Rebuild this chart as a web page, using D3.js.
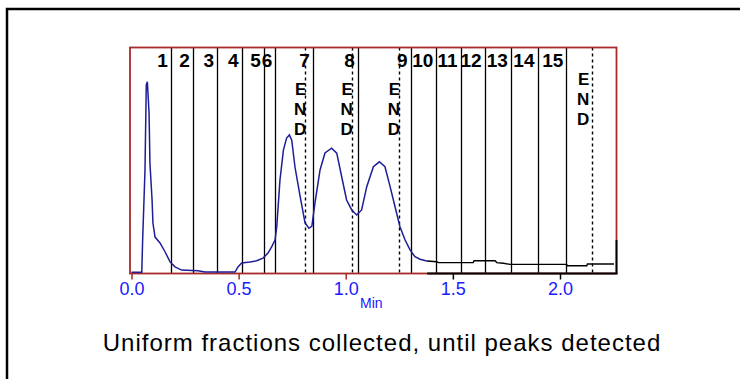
<!DOCTYPE html>
<html>
<head>
<meta charset="utf-8">
<script src="https://cdnjs.cloudflare.com/ajax/libs/d3/7.8.5/d3.min.js"></script>
<style>
  body { margin: 0; background: #fff; }
  svg { display: block; font-family: "Liberation Sans", Arial, sans-serif; }
</style>
</head>
<body>
<svg id="chart" width="740" height="379"></svg>
<script>
// chromatogram trace (time in min, signal in % of full scale)
var traceTime = [0.000, 0.048, 0.052, 0.063, 0.069, 0.074, 0.082, 0.086, 0.096, 0.100,
  0.110, 0.133, 0.157, 0.180, 0.203, 0.234, 0.310, 0.343, 0.483, 0.497,
  0.514, 0.553, 0.584, 0.614, 0.637, 0.654, 0.670, 0.678, 0.693, 0.709,
  0.724, 0.737, 0.748, 0.763, 0.786, 0.810, 0.828, 0.842, 0.856, 0.880,
  0.903, 0.934, 0.958, 0.981, 1.004, 1.028, 1.051, 1.074, 1.098, 1.129,
  1.157, 1.183, 1.207, 1.230, 1.253, 1.277, 1.300, 1.323, 1.347, 1.378,
  1.425, 1.432, 1.595, 1.599, 1.697, 1.705, 1.735, 1.767, 2.031, 2.035,
  2.125, 2.128, 2.252];
var traceSignal = [0.3, 0.3, 14.6, 45.6, 83.2, 84.6, 70.8, 48.7, 32.3, 22.1,
  15.9, 13.3, 9.3, 4.9, 2.7, 1.3, 1.0, 0.4, 0.4, 2.7,
  4.4, 4.9, 5.4, 6.6, 8.8, 11.6, 14.6, 20.5, 41.2, 54.4,
  59.7, 61.1, 58.8, 46.9, 34.5, 22.1, 19.8, 20.8, 30.8, 45.6,
  53.1, 55.2, 53.0, 42.6, 32.3, 27.9, 25.7, 27.9, 38.2, 47.0,
  49.2, 47.0, 38.2, 29.3, 20.5, 14.6, 10.2, 7.2, 6.1, 5.3,
  5.0, 4.6, 4.6, 5.4, 5.4, 4.6, 4.3, 3.8, 3.8, 3.2,
  3.2, 4.0, 4.0];

// fraction cut times and their numbers
var fractionCuts = [0.183, 0.286, 0.400, 0.514, 0.618, 0.671, 0.846, 1.056,
  1.303, 1.423, 1.536, 1.648, 1.771, 1.895, 2.030];
var fractionLabels = ["1", "2", "3", "4", "5", "6", "7", "8",
  "9", "10", "11", "12", "13", "14", "15"];

// peak end markers
var peakEnds = [0.811, 1.028, 1.249, 2.151];
var endLetters = ["E", "N", "D"];

var xTicks = [0.0, 0.5, 1.0, 1.5, 2.0];
var colourSwitch = 1.38;   // where the recorder pen goes from blue to black
var axisLabel = "Min";
var caption = "Uniform fractions collected, until peaks detected";

var red = "#a82a2a", navy = "#1e1e96", blue = "#1a1aff";
var box = {left: 130, right: 616.5, top: 47.5, bottom: 273.5};

var svg = d3.select("#chart");

// outer frame (runs off the right/bottom of the picture)
svg.append("rect")
   .attr("x", 7).attr("y", 9)
   .attr("width", 760).attr("height", 400)
   .attr("fill", "none").attr("stroke", "#000").attr("stroke-width", 2.5);

var xScale = d3.scaleLinear().domain([0, 2]).range([131.5, 560]);
var yScale = d3.scaleLinear().domain([0, 100]).range([273, 47]);

var g = svg.append("g");

// fraction boundaries
g.selectAll(".cut")
  .data(fractionCuts)
  .enter().append("line")
  .attr("class", "cut")
  .attr("x1", function(d){ return Math.round(xScale(d)) + 0.5; })
  .attr("x2", function(d){ return Math.round(xScale(d)) + 0.5; })
  .attr("y1", box.top).attr("y2", box.bottom)
  .attr("stroke", "#000").attr("stroke-width", 1.3);

g.selectAll(".cutlabel")
  .data(fractionCuts)
  .enter().append("text")
  .attr("class", "cutlabel")
  .attr("x", function(d){ return xScale(d) - 3; })
  .attr("y", 67)
  .attr("text-anchor", "end")
  .attr("font-size", 19)
  .attr("font-weight", "bold")
  .attr("fill", "#000")
  .text(function(d, i){ return fractionLabels[i]; });

// peak END markers
g.selectAll(".end")
  .data(peakEnds)
  .enter().append("line")
  .attr("class", "end")
  .attr("x1", function(d){ return Math.round(xScale(d)) + 0.5; })
  .attr("x2", function(d){ return Math.round(xScale(d)) + 0.5; })
  .attr("y1", box.top).attr("y2", box.bottom)
  .attr("stroke", "#000").attr("stroke-width", 1.4)
  .attr("stroke-dasharray", "3,3");

peakEnds.forEach(function(t, i){
  var last = i === peakEnds.length - 1;
  g.selectAll(null)
    .data(endLetters)
    .enter().append("text")
    .attr("x", xScale(t) + (last ? -3 : 1))
    .attr("y", function(d, j){ return (last ? 85 : 95) + j * 20; })
    .attr("text-anchor", "end")
    .attr("font-size", 17)
    .attr("font-weight", "bold")
    .attr("fill", "#000")
    .text(function(d){ return d; });
});

// plot frame
g.append("rect")
  .attr("x", box.left).attr("y", box.top)
  .attr("width", box.right - box.left).attr("height", box.bottom - box.top)
  .attr("fill", "none").attr("stroke", red).attr("stroke-width", 1.8);
g.append("line")
  .attr("x1", xScale(colourSwitch)).attr("x2", box.right + 0.9)
  .attr("y1", box.bottom).attr("y2", box.bottom)
  .attr("stroke", "#000").attr("stroke-width", 1.8);
g.append("line")
  .attr("x1", box.right).attr("x2", box.right)
  .attr("y1", 240).attr("y2", box.bottom)
  .attr("stroke", "#000").attr("stroke-width", 1.8);

// trace
var pts = traceTime.map(function(t, i){ return {t: t, s: traceSignal[i]}; });
var line = d3.line()
  .x(function(d){ return xScale(d.t); })
  .y(function(d){ return yScale(d.s); });
g.append("path")
  .datum(pts.filter(function(d){ return d.t <= colourSwitch; }))
  .attr("fill", "none").attr("stroke", navy).attr("stroke-width", 1.5)
  .attr("d", line);
g.append("path")
  .datum(pts.filter(function(d, i){ return d.t >= colourSwitch || (pts[i+1] && pts[i+1].t > colourSwitch && d.t <= colourSwitch); }))
  .attr("fill", "none").attr("stroke", "#000").attr("stroke-width", 1.4)
  .attr("d", line);

// x axis
var xAxis = d3.axisBottom(xScale)
  .tickValues(xTicks)
  .tickSize(6)
  .tickPadding(3)
  .tickFormat(d3.format(".1f"));
var ax = g.append("g")
  .attr("transform", "translate(0," + box.bottom + ")")
  .call(xAxis);
ax.select(".domain").remove();
ax.selectAll(".tick line")
  .attr("stroke", function(d){ return d < colourSwitch ? red : "#000"; })
  .attr("stroke-width", 1.5);
ax.selectAll(".tick text")
  .attr("fill", blue)
  .attr("font-size", 18)
  .attr("font-family", "Liberation Sans, Arial, sans-serif");

g.append("text")
  .attr("x", 360).attr("y", 308)
  .attr("font-size", 14)
  .attr("fill", blue)
  .text(axisLabel);

svg.append("text")
  .attr("x", 382).attr("y", 351)
  .attr("text-anchor", "middle")
  .attr("font-size", 24)
  .attr("letter-spacing", 1)
  .attr("fill", "#000")
  .text(caption);
</script>
</body>
</html>
